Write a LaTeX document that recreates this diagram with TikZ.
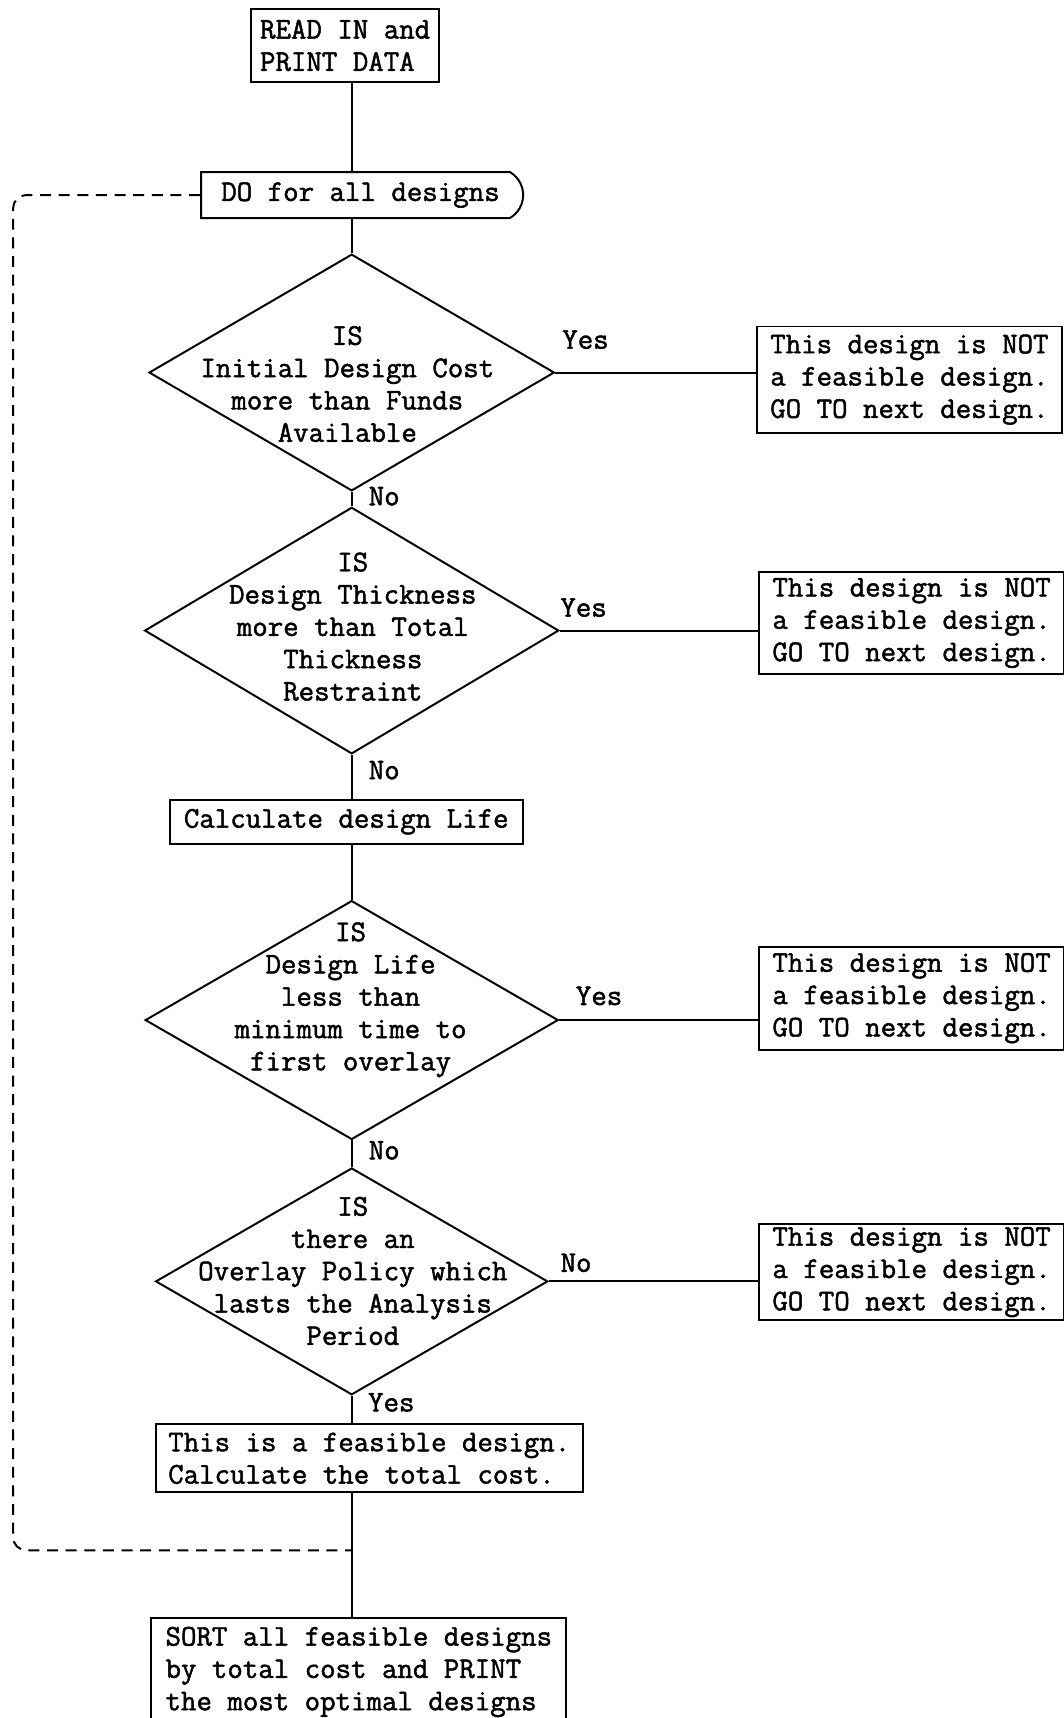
\documentclass[tikz,border=0pt]{standalone}
\usepackage{fontspec}
\setmainfont{Latin Modern Mono}[FakeBold=1.6]
\usepackage{tikz}
\usetikzlibrary{calc, shapes.geometric, shapes.misc}
\tikzset{
	box/.style={draw, line width=0.9pt, inner sep=0pt, align=left},
	decision/.style={draw, diamond, line width=0.9pt, inner sep=0pt},
	qtext/.style={align=center, inner sep=0pt},
	loopline/.style={dash pattern=on 5pt off 3.5pt, line width=0.9pt, rounded corners=6pt},
}

\begin{document}
\begin{tikzpicture}[x=0.5pt, y=-0.5pt, line width=0.9pt, font=\fontsize{13.7}{14.75}\selectfont]
\useasboundingbox (0,0) rectangle (971,1568);
\pgfmathsetmacro{\spineX}{321}
\pgfmathsetmacro{\notX}{832}

% Draw main column
\node[box, minimum width=86pt, minimum height=33.5pt] (read) at (315,41.5) {READ IN and\\PRINT DATA};
\node[draw, rounded rectangle, rounded rectangle left arc=none, rounded rectangle arc length=120,
	minimum width=147pt, minimum height=21pt, inner sep=0pt] (do) at (329,178) {DO for all designs};

\node[decision, minimum width=185pt, minimum height=108pt] (d1) at (\spineX,340) {};
\node[qtext] (q1) at (317,350.5) {IS\\Initial Design Cost\\more than Funds\\Available};

\node[decision, minimum width=189pt, minimum height=112.5pt] (d2) at (\spineX,575.5) {};
\node[qtext] (q2) at (322,572) {IS\\Design Thickness\\more than Total\\Thickness\\Restraint};

\node[box, minimum width=161pt, minimum height=20pt] (calc) at (316,750) {Calculate design Life};

\node[decision, minimum width=188.5pt, minimum height=109pt] (d3) at (\spineX,931) {};
\node[qtext] (q3) at (320,912.5) {IS\\Design Life\\less than\\minimum time to\\first overlay};

\node[decision, minimum width=179pt, minimum height=103.5pt] (d4) at (\spineX,1169.5) {};
\node[qtext] (q4) at (322,1160) {IS\\there an\\Overlay Policy which\\lasts the Analysis\\Period};

\node[box, minimum width=195pt, minimum height=31pt] (feas) at (337,1331) {This is a feasible design.\\Calculate the total cost.};
\node[box, minimum width=189.5pt, minimum height=49pt] (sort) at (327.5,1526) {SORT all feasible designs\\by total cost and PRINT\\the most optimal designs};

% Draw rejection boxes
\node[box, minimum width=139pt, minimum height=48.5pt] (not1) at (830,346.5) {This design is NOT\\a feasible design.\\GO TO next design.};
\node[box, minimum width=139pt, minimum height=46.5pt] (not2) at (\notX,568.5) {This design is NOT\\a feasible design.\\GO TO next design.};
\node[box, minimum width=139pt, minimum height=47pt] (not3) at (\notX,911) {This design is NOT\\a feasible design.\\GO TO next design.};
\node[box, minimum width=139pt, minimum height=44pt] (not4) at (\notX,1161) {This design is NOT\\a feasible design.\\GO TO next design.};

% Draw connectors
\draw (d1.north |- read.south) -- (d1.north |- do.north);
\draw (d1.north |- do.south) -- (d1.north);
\draw (d1.south) -- (d2.north) node[pos=0, anchor=west, xshift=4pt, yshift=-2pt] (no1) {No};
\draw (d2.south) -- (d2.south |- calc.north) node[pos=0, anchor=west, xshift=4pt, yshift=-7pt] (no2) {No};
\draw (d3.north |- calc.south) -- (d3.north);
\draw (d3.south) -- (d4.north) node[pos=0, anchor=west, xshift=4pt, yshift=-4.5pt] (no3) {No};
\draw (d4.south) -- (d4.south |- feas.north) node[pos=0, anchor=west, xshift=3.7pt, yshift=-3pt] (yes4) {Yes};
\draw (d4.south |- feas.south) -- (d4.south |- sort.north);

\draw (d1.east) -- (d1.east -| not1.west) node[pos=0.15, yshift=15pt] (yes1) {Yes};
\draw (d2.east) -- (d2.east -| not2.west) node[pos=0.12, yshift=10.5pt] (yes2) {Yes};
\draw (d3.east) -- (d3.east -| not3.west) node[pos=0.2, yshift=11pt] (yes3) {Yes};
\draw (d4.east) -- (d4.east -| not4.west) node[pos=0.13, yshift=8.5pt] (no4) {No};

% Draw loop back
\coordinate (loopend) at (\spineX,1415);
\draw[loopline] (do.west) -- (12,178) -- (12,1415) -- (loopend);
\end{tikzpicture}
\end{document}
